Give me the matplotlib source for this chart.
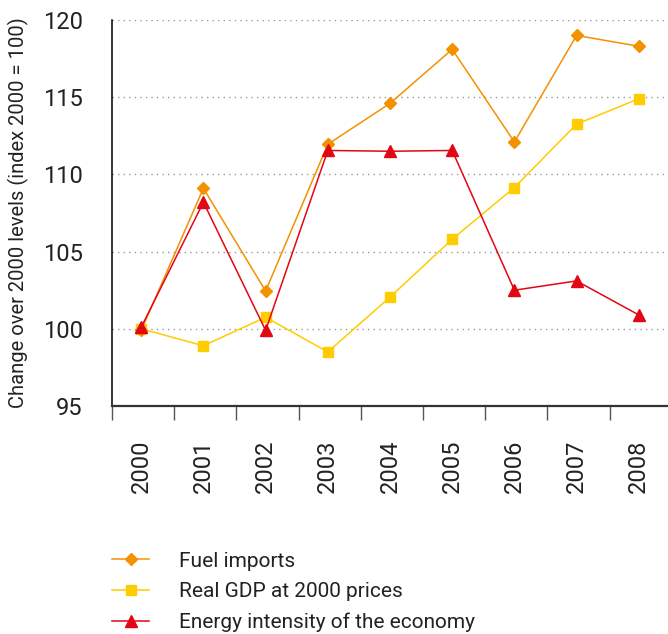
import numpy as np
import matplotlib
matplotlib.use("Agg")
import matplotlib.pyplot as plt

# Data
years = ['2000', '2001', '2002', '2003', '2004', '2005', '2006', '2007', '2008']
fuel_imports = [99.9, 109.1, 102.45, 111.95, 114.6, 118.1, 112.1, 119.0, 118.3]
real_gdp = [100.0, 98.9, 100.75, 98.5, 102.05, 105.8, 109.15, 113.25, 114.9]
energy_intensity = [100.1, 108.2, 99.9, 111.55, 111.5, 111.55, 102.5, 103.1, 100.9]

labels = ['Fuel imports', 'Real GDP at 2000 prices', 'Energy intensity of the economy']
colors = ['#F39200', '#FFCC00', '#E30613']

plt.rcParams['font.family'] = ['Roboto', 'DejaVu Sans']

fig = plt.figure(figsize=(6.68, 6.34), dpi=100)
ax = fig.add_axes([112 / 668, 1 - 406 / 634, 1 - 112 / 668, 386 / 634])

x = np.arange(len(years))
l_fuel, = ax.plot(x, fuel_imports, color=colors[0], marker='D', ms=6.5, lw=1.1, zorder=4)
l_gdp, = ax.plot(x, real_gdp, color=colors[1], marker='s', ms=6.5, lw=1.1, zorder=3)
l_en, = ax.plot(x, energy_intensity, color=colors[2], marker='^', ms=8.5, lw=1.1, zorder=5)

ax.set_ylim(95, 120)
ax.set_xlim(-0.47, 8.47)
ax.set_yticks([95, 100, 105, 110, 115, 120])
ax.tick_params(axis='y', length=0, pad=21, labelsize=17, labelcolor='#222222')
ax.set_xticks(x)
ax.set_xticklabels(years, rotation=90)
ax.tick_params(axis='x', which='major', length=0, pad=24, labelsize=17, labelcolor='#222222')
ax.set_xticks(np.arange(-0.47, 8, 1.0), minor=True)
ax.tick_params(axis='x', which='minor', length=10, width=1, color='#555555')

for v in [100, 105, 110, 115, 120]:
    ax.axhline(v, color='#999999', lw=1, ls=(0, (1, 3)), zorder=1)

for s in ['top', 'right']:
    ax.spines[s].set_visible(False)
ax.spines['left'].set_linewidth(1.1)
ax.spines['bottom'].set_linewidth(1.6)
ax.spines['bottom'].set_color('#333333')

ax.set_ylabel('Change over 2000 levels (index 2000 = 100)', fontsize=14.5,
              color='#222222')
ax.yaxis.set_label_coords(-0.15, 0.5)

fig.legend([l_fuel, l_gdp, l_en], labels, loc='upper left',
           bbox_to_anchor=(93 / 668, 1 - 533 / 634), frameon=False,
           fontsize=15, handlelength=1.8, handletextpad=1.45, labelspacing=0.55,
           labelcolor='#222222')

fig.savefig('out.png', dpi=100)
